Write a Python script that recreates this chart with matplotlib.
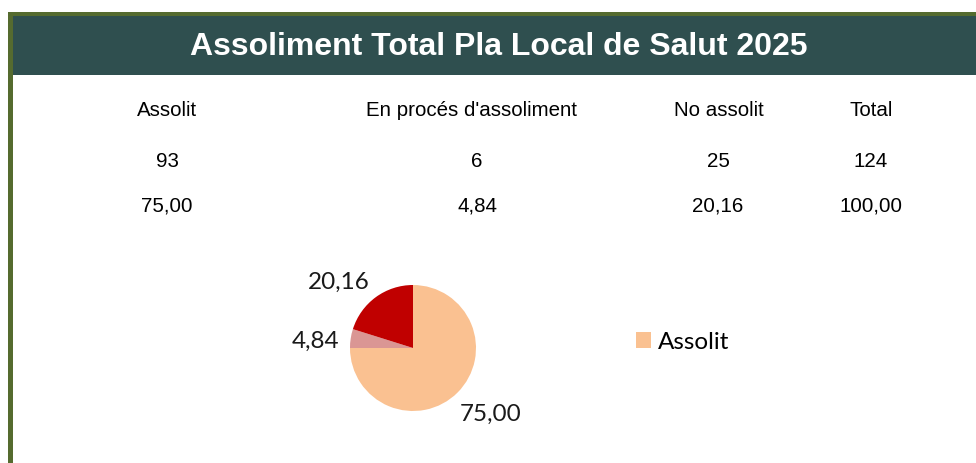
import matplotlib.pyplot as plt
from matplotlib.patches import Rectangle
import numpy as np

# data
title = "Assoliment Total Pla Local de Salut 2025"
categories = ["Assolit", "En procés d'assoliment", "No assolit"]
counts = [93, 6, 25]
percents = [75.00, 4.84, 20.16]
total_count = 124
total_pct = 100.00
legend_shown = ["Assolit"]

colors = ["#FAC191", "#DA9694", "#C00000"]
teal = "#2F4F4F"
olive = "#556B2F"

W, H = 976, 464
fig = plt.figure(figsize=(W / 100, H / 100), dpi=100)
bg = fig.add_axes([0, 0, 1, 1])
bg.set_xlim(0, W)
bg.set_ylim(H, 0)
bg.axis("off")

# frame and header band
bg.add_patch(Rectangle((8, 13), W, 4, color=olive, lw=0))
bg.add_patch(Rectangle((8, 13), 5, H, color=olive, lw=0))
bg.add_patch(Rectangle((13, 17), W, 58.5, color=teal, lw=0))
bg.text(499, 47, title, color="white", fontsize=23, fontweight="bold",
        family="Liberation Sans", ha="center", va="center")

# table of values
def fmt(v):
    return f"{v:.2f}".replace(".", ",")

head_x = [167, 472, 719, 871]
val_x = [167, 477, 718, 871]
heads = categories + ["Total"]
cnts = [str(c) for c in counts] + [str(total_count)]
pcts = [fmt(p) for p in percents] + [fmt(total_pct)]
fs = 14.8
for i in range(4):
    bg.text(head_x[i], 110, heads[i], fontsize=fs, family="Liberation Sans",
            ha="center", va="center")
    bg.text(val_x[i], 162, cnts[i], fontsize=fs, family="Liberation Sans",
            ha="center", va="center")
    bg.text(val_x[i], 206, pcts[i], fontsize=fs, family="Liberation Sans",
            ha="center", va="center")

# pie
cx, cy, r = 413, 349, 63
ax = fig.add_axes([(cx - r) / W, (H - cy - r) / H, 2 * r / W, 2 * r / H])
wedges, _ = ax.pie(percents, colors=colors, startangle=90, counterclock=False,
                   radius=1, wedgeprops=dict(linewidth=0))
ax.set_xlim(-1, 1)
ax.set_ylim(-1, 1)

for w, p in zip(wedges, percents):
    mid = np.deg2rad((w.theta1 + w.theta2) / 2)
    x, y = np.cos(mid), np.sin(mid)
    ha = "left" if x > 0 else "right"
    if abs(y) < 0.3:
        va = "center"
        off = (4 * np.sign(x), -2)
    elif y > 0:
        va = "bottom"
        off = (2 * np.sign(x), 0)
    else:
        va = "top"
        off = (-1.5, -4)
    ax.annotate(fmt(p), (1.1 * x, 1.1 * y), xytext=off,
                textcoords="offset points", ha=ha, va=va,
                fontsize=17.5, family="Lato", color="#1a1a1a",
                annotation_clip=False)

leg = fig.legend([wedges[0]], legend_shown, loc="center left",
                 bbox_to_anchor=(636 / W, (H - 343) / H), frameon=False,
                 prop=dict(family="Lato", size=17.5), handlelength=0.6,
                 handleheight=0.6, handletextpad=0.3, borderpad=0,
                 borderaxespad=0)

fig.savefig("out.png", dpi=100)
